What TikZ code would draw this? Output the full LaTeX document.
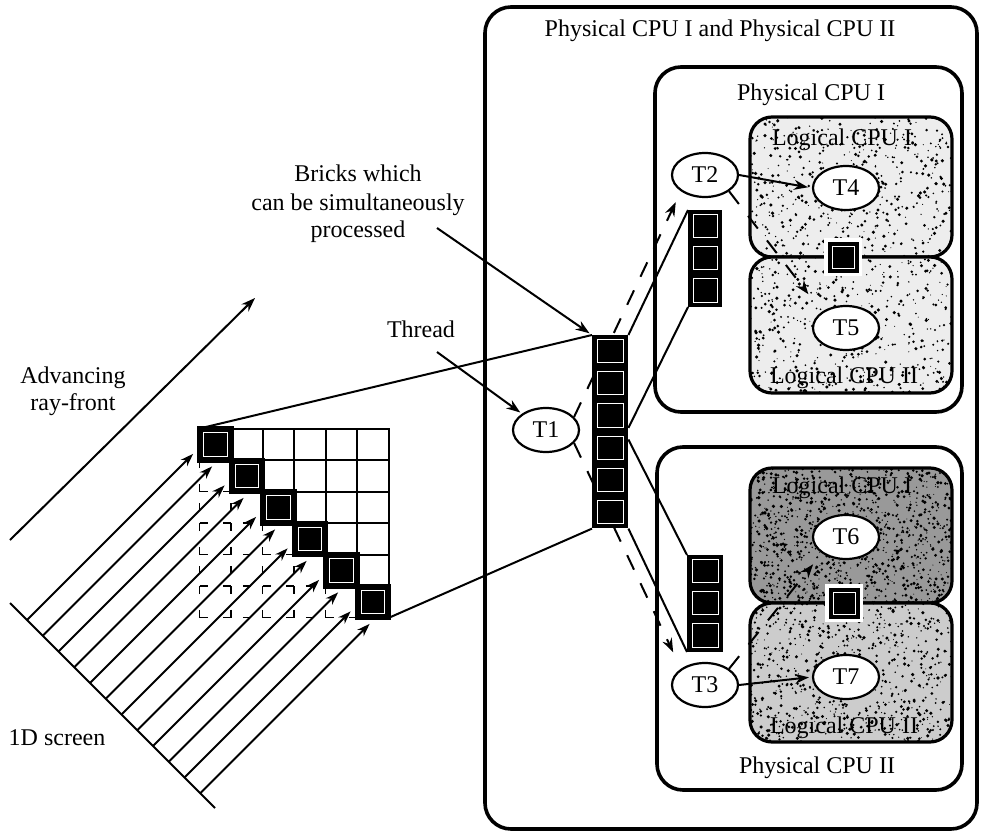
\documentclass[tikz,border=0pt]{standalone}
\usepackage{fontspec}
\setmainfont{Liberation Serif}
\usetikzlibrary{arrows.meta,shapes.geometric,calc}

% a grainy grey panel with rounded corners: x1,y1,x2,y2,base shade,speck count
\newcommand\logicbox[6]{%
  \begin{scope}
    \clip[rounded corners=22pt] (#1,#2) rectangle (#3,#4);
    \fill[black!#5] (#1,#2) rectangle (#3,#4);
    \foreach \k in {1,...,#6} {\fill[black] ({#1+(#3-#1)*rnd},{#2+(#4-#2)*rnd}) circle ({0.5+1.3*rnd});}
  \end{scope}
  \draw[lbox] (#1,#2) rectangle (#3,#4);}

% a vertical stack of bricks: name, x, y (top left), width, count
\newcommand\brickcolumn[5]{%
  \node[fill=black, minimum width=#4pt, minimum height={#5*32.2pt}, inner sep=0pt, anchor=north west] (#1) at (#2,#3) {};
  \foreach \k in {1,...,#5} {\draw[brickline] ({#2+5},{#3+32.2*(\k-1)+4.5}) rectangle ({#2+#4-5},{#3+32.2*\k-4.5});}}

% a single brick sitting on the seam between two logical CPUs
\newcommand\seambrick[3]{%
  \node[fill=white, minimum size=38pt, inner sep=0pt] at (#2,#3) {};
  \node[fill=black, minimum size=31pt, inner sep=0pt] (#1) at (#2,#3) {};
  \draw[brickline] ({#2-11},{#3-11}) rectangle ({#2+11},{#3+11});}

\tikzset{
  every node/.style={font=\fontsize{24}{28}\selectfont},
  ell/.style={draw, ellipse, line width=2.2pt, fill=white, minimum width=66pt, minimum height=44pt, inner sep=0pt},
  frame/.style={draw, line width=3.6pt, rounded corners=26pt},
  lbox/.style={draw, line width=3.2pt, rounded corners=22pt},
  conn/.style={line width=2pt},
  arr/.style={line width=2pt, -{Stealth[length=14pt,width=10pt]}},
  rayarr/.style={line width=2pt, -{Stealth[length=13pt,width=9pt]}, shorten >=9pt},
  darr/.style={arr, dash pattern=on 16pt off 15pt},
  gridline/.style={line width=2pt},
  brickline/.style={draw=white, line width=0.9pt},
  cornerdash/.style={line width=1.8pt, dash pattern=on 8pt off 15.5pt},
  middash/.style={line width=1.8pt},
}

\begin{document}
\begin{tikzpicture}[x=1pt,y=-1pt]
\fill[white] (0,0) rectangle (983,840);
\useasboundingbox (0,0) rectangle (983,840);
\pgfmathsetseed{4217}

% ---------------- processor frames ----------------
\draw[frame] (485,7) rectangle (977,829);
\node[anchor=base] (ttl) at (720,37) {Physical CPU I and Physical CPU II};
\draw[frame] (655,67) rectangle (962,412);
\node[anchor=base] (pc1) at (811,101) {Physical CPU I};
\draw[frame] (657,447) rectangle (962,790);
\node[anchor=base] (pc2) at (817,773) {Physical CPU II};

% logical CPUs
\logicbox{750}{117}{952}{257}{7}{520}
\logicbox{750}{257}{952}{393}{7}{520}
\logicbox{750}{468}{952}{603}{40}{1100}
\logicbox{750}{603}{952}{742}{20}{750}
\node[anchor=base] (l11) at (842,146) {Logical CPU I};
\node[anchor=base] (l12) at (844,383) {Logical CPU II};
\node[anchor=base] (l21) at (842,493) {Logical CPU I};
\node[anchor=base] (l22) at (844,733) {Logical CPU II};
\seambrick{sbA}{843}{257}
\seambrick{sbB}{844}{603}

% threads
\node[ell] (T1) at (546,430) {T1};
\node[ell] (T2) at (705,175) {T2};
\node[ell] (T3) at (705,685) {T3};
\node[ell] (T4) at (846,188) {T4};
\node[ell] (T5) at (846,328) {T5};
\node[ell] (T6) at (846,537) {T6};
\node[ell] (T7) at (846,677) {T7};

% ---------------- brick grid ----------------
% dashed cells below the diagonal
\foreach \i/\j in {0/1,0/3,0/5,2/3,2/5,4/5} {
  \draw[cornerdash]
    ({199.5+31.5*\i},{428.5+31.5*\j}) -- ({231+31.5*\i},{428.5+31.5*\j})
    ({231+31.5*\i},{428.5+31.5*\j}) -- ({231+31.5*\i},{460+31.5*\j})
    ({231+31.5*\i},{460+31.5*\j}) -- ({199.5+31.5*\i},{460+31.5*\j})
    ({199.5+31.5*\i},{460+31.5*\j}) -- ({199.5+31.5*\i},{428.5+31.5*\j});
}
% short dashes on the remaining edges
\foreach \k/\j in {0/2,1/2,0/4,1/4,2/4,3/4} {
  \draw[middash] ({199.5+31.5*\k},{440.25+31.5*\j}) -- ({199.5+31.5*\k},{448.25+31.5*\j});
}
\foreach \i/\l in {1/3,1/4,1/5,3/5,1/6,3/6} {
  \draw[middash] ({211.25+31.5*\i},{428.5+31.5*\l}) -- ({219.25+31.5*\i},{428.5+31.5*\l});
}
% white cells on and above the diagonal
\foreach \j in {0,...,5} {
  \foreach \i in {\j,...,5} {
    \draw[gridline] ({199.5+31.5*\i},{428.5+31.5*\j}) rectangle ({231+31.5*\i},{460+31.5*\j});
  }
}
% bricks on the diagonal
\foreach \k in {0,...,5} {
  \fill[black] ({197+31.5*\k},{426+31.5*\k}) rectangle ({233.5+31.5*\k},{462.5+31.5*\k});
  \draw[brickline] ({203.5+31.5*\k},{432.5+31.5*\k}) rectangle ({227+31.5*\k},{456+31.5*\k});
}
\coordinate (gTL) at (199.5,428.5);
\coordinate (gBR) at (389.5,617.5);

% ---------------- screen and rays ----------------
\coordinate (scrA) at (10,603);
\coordinate (scrB) at (215,808);
\draw[conn] (scrA) -- (scrB);
\foreach \m in {0,...,5} {
  \draw[rayarr] ({27+31.5*\m},{620+31.5*\m}) -- ({199.5+31.5*\m},{447.5+31.5*\m});
  \draw[rayarr] ({42.75+31.5*\m},{635.75+31.5*\m}) -- ({218.5+31.5*\m},{460+31.5*\m});
}
\coordinate (rfA) at (10,540);
\coordinate (rfB) at (255,298);
\draw[arr] (rfA) -- (rfB);

% ---------------- labels ----------------
\node[anchor=base] (adv1) at (73,383) {Advancing};
\node[anchor=base] (adv2) at (73,410) {ray-front};
\node[anchor=base] (scr) at (57,745) {1D screen};
\node[anchor=base] (bk1) at (358,182) {Bricks which};
\node[anchor=base] (bk2) at (358,210) {can be simultaneously};
\node[anchor=base] (bk3) at (358,237) {processed};
\node[anchor=base] (thr) at (421,337) {Thread};
\coordinate (bksrc) at (437,228);
\coordinate (thsrc) at (437,352);

% ---------------- work distribution ----------------
\draw[darr, shorten >=12pt] (T1.25) -- (T2.south west);
\draw[darr, shorten >=18pt] (T1.-25) -- (T3.north west);

\brickcolumn{col}{592}{335}{36}{6}
\brickcolumn{colA}{688}{210}{34}{3}
\brickcolumn{colB}{687}{555}{36}{3}

\draw[conn] (gTL) -- (col.north west);
\draw[conn] (gBR) -- (col.south west);
\draw[conn] (col.north east) -- (colA.north west);
\draw[conn] ($(col.north east)!0.48!(col.south east)$) -- (colA.south west);
\draw[conn] ($(col.north east)!0.54!(col.south east)$) -- (colB.north west);
\draw[conn] (col.south east) -- (colB.south west);

\draw[arr, shorten >=3pt] (bksrc) -- (col.north west);
\draw[arr, shorten >=2pt] (thsrc) -- (T1.north west);

\draw[arr, shorten >=4pt] (T2.east) -- (T4.west);
\draw[darr, shorten >=22pt] (T2.south east) -- (T5.north west);
\draw[darr, shorten >=14pt] (T3.north east) -- (T6.south west);
\draw[arr, shorten >=3pt] (T3.east) -- (T7.west);
\end{tikzpicture}
\end{document}
